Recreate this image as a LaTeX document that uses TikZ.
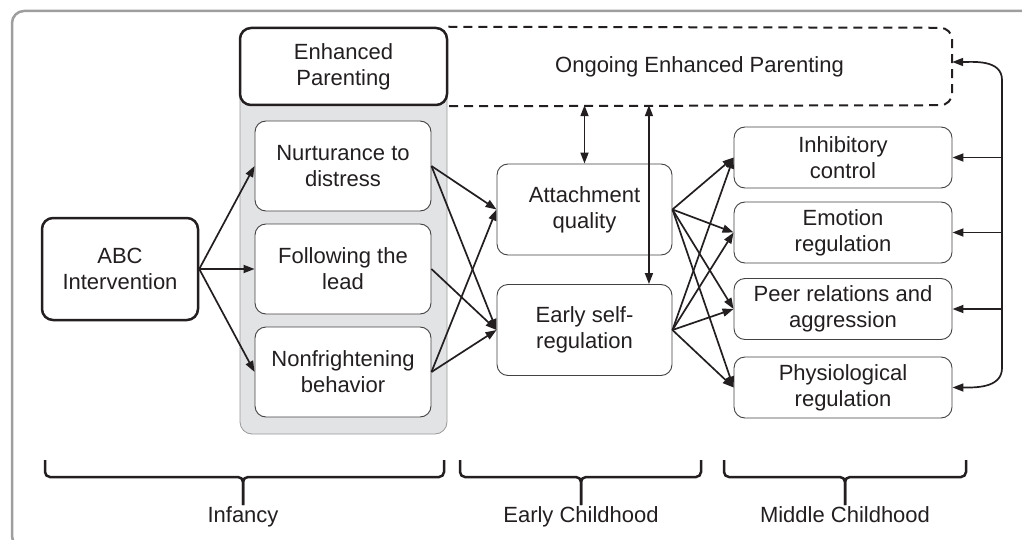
\documentclass[tikz,border=0pt]{standalone}
\usepackage{fontspec}
\setmainfont{Liberation Sans}
\usetikzlibrary{arrows.meta}
\definecolor{ink}{HTML}{231F20}
\definecolor{panel}{HTML}{E2E3E5}
\def\boxfont{\fontsize{22}{26}\selectfont}

\begin{document}
\begin{tikzpicture}
[x=1pt,y=-1pt,>={Triangle[length=11pt,width=8pt]},
 box/.style={draw=ink!85,line width=0.9pt,rounded corners=11pt,fill=white,align=center,inner sep=0pt,text=ink,font=\boxfont},
 bigbox/.style={box,draw=ink,line width=2.5pt},
 link/.style={->,line width=1.7pt,ink},
 period/.style={line width=2.5pt,rounded corners=5pt,ink},
 stage/.style={text=ink,font=\boxfont,inner sep=0pt,anchor=base}]

% the page
\useasboundingbox (0,0) rectangle (1022,540);
\clip (0,0) rectangle (1022,540);
\draw[black!38,line width=2.5pt,rounded corners=12pt] (12,11) rectangle (1045,548);

% the grey panel behind the parenting behaviours
\draw[black!40,fill=panel,line width=0.8pt,rounded corners=12pt] (240,60) rectangle (447,434);

% the boxes
\node[bigbox,minimum width=207pt,minimum height=77pt] (parenting) at (343.5,66.5) {Enhanced\\Parenting};
\node[text=ink,font=\boxfont,inner sep=0pt,minimum width=505pt,minimum height=77pt] (ongoing) at (699.5,66.5) {Ongoing Enhanced Parenting};
\node[bigbox,minimum width=156pt,minimum height=102pt] (abc) at (120,269) {ABC\\Intervention};

\node[box,minimum width=176pt,minimum height=90pt] (nurture) at (343,166) {Nurturance to\\distress};
\node[box,minimum width=176pt,minimum height=90pt] (lead) at (343,269) {Following the\\lead};
\node[box,minimum width=176pt,minimum height=90pt] (nonfright) at (343,372) {Nonfrightening\\behavior};

\node[box,minimum width=175pt,minimum height=91pt] (attach) at (584.5,209.5) {Attachment\\quality};
\node[box,minimum width=175pt,minimum height=91pt] (selfreg) at (584.5,330) {Early self-\\regulation};

\node[box,minimum width=218pt,minimum height=61pt] (inhibit) at (843,157.5) {Inhibitory\\control};
\node[box,minimum width=218pt,minimum height=61pt] (emotion) at (843,232.5) {Emotion\\regulation};
\node[box,minimum width=218pt,minimum height=61pt] (peer) at (843,309) {Peer relations and\\aggression};
\node[box,minimum width=218pt,minimum height=61pt] (physio) at (843,387.5) {Physiological\\regulation};

% the dashed box
\draw[ink,line width=2pt,dash pattern=on 9pt off 6pt,rounded corners=12pt]
  (parenting.north east) -- (ongoing.north east) -- (ongoing.south east) -- (parenting.south east);

% the arrows
\foreach \t in {nurture,lead,nonfright}
  \draw[link] (abc.east) -- (\t.west);
\draw[link] (nurture.east) -- (attach.west);
\draw[link] (nurture.east) -- (selfreg.west);
\draw[link] (lead.east) -- (selfreg.west);
\draw[link] (nonfright.east) -- (attach.west);
\draw[link] (nonfright.east) -- (selfreg.west);
\foreach \s in {attach,selfreg}
  \foreach \t in {inhibit,emotion,peer,physio}
    \draw[link] (\s.east) -- (\t.west);

% the links with ongoing parenting
\coordinate (drop) at ([xshift=-23.5pt]selfreg.north east);
\draw[link,<->] (attach.north |- ongoing.south) -- (attach.north);
\draw[link,<->] (drop |- ongoing.south) -- (drop);

% the feedback line
\coordinate (back) at (1002,0);
\coordinate (in) at ([yshift=4.5pt]ongoing.east);
\draw[link,<->] (in) to[out=0,in=90] (back |- 0,80) -- (back |- 0,368) to[out=-90,in=0] (physio.east);
\foreach \t in {inhibit,emotion,peer}
  \draw[link] (back |- \t.east) -- (\t.east);

% the periods
\foreach \l/\m/\r/\n/\txt in {45/243/444/infancy/Infancy,460/581/701/early/Early Childhood,724/845/966/middle/Middle Childhood}
{
  \draw[period] (\l,460) -- (\l,477) -- (\m,477) -- (\m,505);
  \draw[period] (\r,460) -- (\r,477) -- (\m,477) -- (\m,505);
  \node[stage] (\n) at (\m,522) {\txt};
}
\end{tikzpicture}
\end{document}
